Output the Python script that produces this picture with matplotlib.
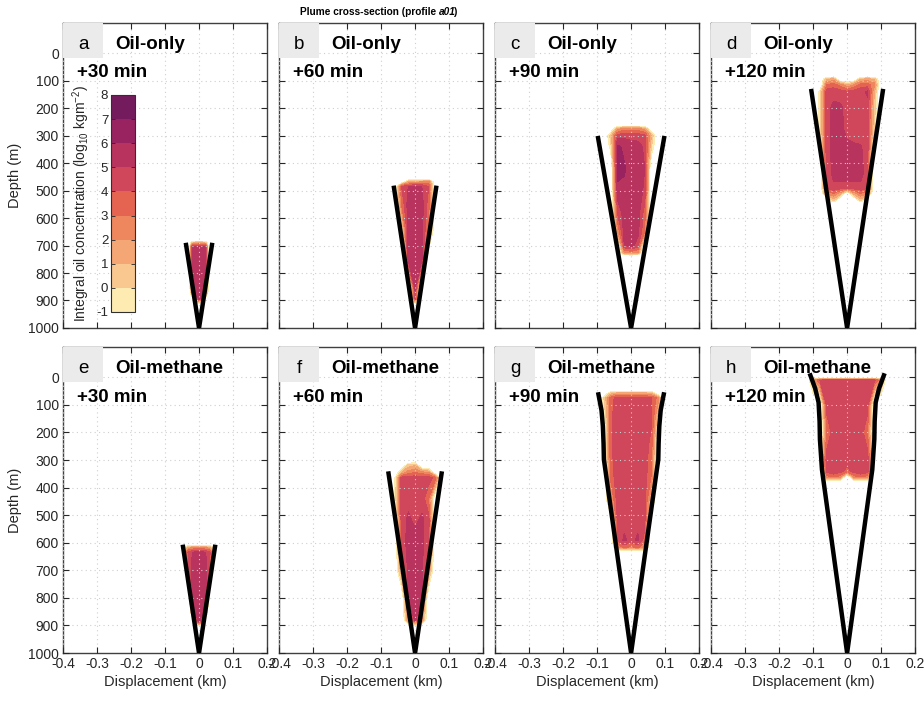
import numpy as np
import matplotlib
matplotlib.use('Agg')
import matplotlib.pyplot as plt
from matplotlib.colors import ListedColormap, BoundaryNorm
from matplotlib.cm import ScalarMappable
from matplotlib.patches import Rectangle
from matplotlib.ticker import FuncFormatter

plt.rcParams['font.family'] = ['Liberation Sans', 'DejaVu Sans']
plt.rcParams['axes.unicode_minus'] = False
plt.rcParams['mathtext.fontset'] = 'custom'
plt.rcParams['mathtext.rm'] = 'Liberation Sans'

# ---- labels ----
letters = ['a', 'b', 'c', 'd', 'e', 'f', 'g', 'h']
scenarios = ['Oil-only'] * 4 + ['Oil-methane'] * 4
times = ['+30 min', '+60 min', '+90 min', '+120 min'] * 2

levels = [-1, 0, 1, 2, 3, 4, 5, 6, 7, 8]
level_colors = ['#fdebb1', '#f9c790', '#f4a674', '#ee875d', '#e46451',
                '#d0465a', '#b8335e', '#992361', '#741b5e']

# ---- plume envelope (depth m, half width km) ----
cone_depth = [
    [1000, 698], [1000, 490], [1000, 309], [1000, 138],
    [1000, 615], [1000, 349],
    [1000, 298, 240, 177, 120, 62],
    [1000, 335, 280, 225, 160, 91, 40, -7],
]
cone_half = [
    [0, 0.038], [0, 0.062], [0, 0.097], [0, 0.105],
    [0, 0.047], [0, 0.078],
    [0, 0.080, 0.081, 0.083, 0.087, 0.096],
    [0, 0.074, 0.077, 0.080, 0.081, 0.084, 0.094, 0.108],
]

# ---- integral oil concentration, log10 kg m^-2 (values below -1 = no oil) ----
a_x = [-0.04, -0.03, -0.02, -0.01, 0.0, 0.01, 0.02, 0.03, 0.04]
a_depth = [680, 692, 705, 760, 820, 870, 895, 915]
a_conc = [
    [-3, -3, -3, -3, -3, -3, -3, -3, -3],
    [-3, -3, 1.0, 2.0, 2.5, 2.0, 1.0, -3, -3],
    [-3, -3, 5.2, 5.5, 5.6, 5.5, 5.2, -3, -3],
    [-3, -3, 5.3, 5.6, 5.7, 5.6, 5.3, -3, -3],
    [-3, -3, 4.0, 5.6, 5.7, 5.6, 4.0, -3, -3],
    [-3, -3, 2.5, 5.4, 5.6, 5.4, 2.5, -3, -3],
    [-3, -3, -3, 3.0, 5.3, 3.0, -3, -3, -3],
    [-3, -3, -3, -3, -3, -3, -3, -3, -3],
]

b_x = [-0.06, -0.04, -0.02, 0.0, 0.02, 0.04, 0.06]
b_depth = [455, 468, 485, 550, 650, 750, 850, 895, 915]
b_conc = [
    [-3, -3, -3, -3, -3, -3, -3],
    [-3, -3, 1.0, 1.5, 2.0, 2.5, -3],
    [-3, 4.0, 5.0, 5.3, 5.0, 4.0, -3],
    [-3, 3.0, 5.5, 5.6, 5.4, 3.5, -3],
    [-3, -1.5, 5.5, 5.7, 5.3, 2.5, -3],
    [-3, -3, 5.4, 5.7, 5.2, -3, -3],
    [-3, -3, -3, 5.6, -3, -3, -3],
    [-3, -3, -3, 4.0, -3, -3, -3],
    [-3, -3, -3, -3, -3, -3, -3],
]

c_x = [-0.08, -0.06, -0.04, -0.02, 0.0, 0.02, 0.04, 0.06, 0.08]
c_depth = [260, 275, 300, 340, 420, 500, 580, 650, 700, 725, 740]
c_conc = [
    [-3, -3, -3, -3, -3, -3, -3, -3, -3],
    [-3, -3, 1.5, 2.5, 2.5, 2.5, 1.5, -3, -3],
    [-3, 0.5, 4.5, 4.7, 4.6, 4.6, 4.3, 1.0, -3],
    [-3, -0.5, 6.2, 5.8, 5.5, 5.4, 4.8, 0.0, -3],
    [-3, -3, 6.3, 6.1, 5.6, 5.5, 5.0, -3, -3],
    [-3, -3, 5.8, 5.8, 5.6, 5.5, 4.8, -3, -3],
    [-3, -3, 4.0, 5.6, 5.7, 5.5, 3.5, -3, -3],
    [-3, -3, 2.0, 5.5, 5.6, 5.3, 3.0, -3, -3],
    [-3, -3, -3, 5.0, 5.4, 4.5, -3, -3, -3],
    [-3, -3, -3, 2.0, 2.5, 2.0, -3, -3, -3],
    [-3, -3, -3, -3, -3, -3, -3, -3, -3],
]

d_x = [-0.10, -0.08, -0.06, -0.04, -0.02, 0.0, 0.02, 0.04, 0.06, 0.08, 0.10]
d_depth = [80, 95, 115, 140, 200, 280, 360, 440, 490, 510, 535, 550]
d_conc = [
    [-3, -3, -3, -3, -3, -3, -3, -3, -3, -3, -3],
    [-3, -3, 1.0, 1.5, -3, -3, -3, 1.0, 1.5, 1.0, -3],
    [-3, -3, 3.0, 3.5, 2.5, 1.0, 2.0, 3.5, 3.5, 2.5, -3],
    [-3, -0.5, 4.6, 4.6, 4.5, 4.2, 4.5, 4.6, 5.2, 1.0, -3],
    [-3, -0.5, 4.6, 5.3, 5.2, 4.6, 4.6, 4.6, 4.6, 0.5, -3],
    [-3, -0.5, 4.6, 5.4, 5.3, 4.7, 4.6, 4.6, 4.5, 0.0, -3],
    [-3, -1.0, 4.6, 5.3, 5.5, 5.4, 5.3, 5.2, 4.5, -3, -3],
    [-3, -3, 4.5, 5.2, 5.5, 5.6, 5.5, 5.3, 4.5, -3, -3],
    [-3, -3, 4.2, 4.8, 4.6, 4.5, 4.6, 4.7, 4.2, -3, -3],
    [-3, -3, 2.0, 3.0, 1.5, -3, 1.5, 3.0, 2.0, -3, -3],
    [-3, -3, -3, 0.5, -3, -3, -3, 0.5, -3, -3, -3],
    [-3, -3, -3, -3, -3, -3, -3, -3, -3, -3, -3],
]

e_x = [-0.05, -0.04, -0.03, -0.02, -0.01, 0.0, 0.01, 0.02, 0.03, 0.04, 0.05]
e_depth = [605, 618, 635, 700, 780, 850, 885, 905]
e_conc = [
    [-3, -3, -3, -3, -3, -3, -3, -3, -3, -3, -3],
    [-3, 0.0, 1.5, 2.0, 2.5, 2.5, 2.5, 2.0, 1.5, 0.0, -3],
    [-3, 2.5, 4.5, 5.0, 5.3, 5.4, 5.3, 5.0, 4.5, 2.5, -3],
    [-3, -3, 4.0, 5.3, 5.6, 5.7, 5.6, 5.3, 4.0, -3, -3],
    [-3, -3, -3, 5.0, 5.6, 5.7, 5.6, 5.0, -3, -3, -3],
    [-3, -3, -3, 2.0, 5.4, 5.6, 5.4, 2.0, -3, -3, -3],
    [-3, -3, -3, -3, 4.0, 5.2, 4.0, -3, -3, -3, -3],
    [-3, -3, -3, -3, -3, -3, -3, -3, -3, -3, -3],
]

f_x = [-0.08, -0.06, -0.04, -0.02, 0.0, 0.02, 0.04, 0.06, 0.08]
f_depth = [300, 320, 345, 365, 440, 520, 600, 700, 800, 880, 905]
f_conc = [
    [-3, -3, -3, -3, -3, -3, -3, -3, -3],
    [-3, -3, -3, 0.5, 1.0, -3, -3, -3, -3],
    [-3, -3, 1.0, 2.5, 3.0, 2.5, 2.0, -3, -3],
    [-3, -1.2, 4.5, 4.6, 4.6, 4.6, 4.5, 3.5, -3],
    [-3, -1.0, 4.5, 4.7, 4.6, 4.6, 3.0, -3, -3],
    [-3, -3, 4.5, 5.2, 4.8, 5.2, 4.5, -3, -3],
    [-3, -3, 4.3, 5.4, 5.5, 5.3, 4.0, -3, -3],
    [-3, -3, 2.0, 5.4, 5.6, 5.3, 2.0, -3, -3],
    [-3, -3, -3, 5.0, 5.6, 5.0, -3, -3, -3],
    [-3, -3, -3, 2.0, 5.4, 2.0, -3, -3, -3],
    [-3, -3, -3, -3, -3, -3, -3, -3, -3],
]

g_x = [-0.10, -0.08, -0.06, -0.04, -0.02, 0.0, 0.02, 0.04, 0.06, 0.08, 0.10]
g_depth = [45, 58, 75, 150, 250, 350, 450, 530, 590, 615, 635]
g_conc = [
    [-3, -3, -3, -3, -3, -3, -3, -3, -3, -3, -3],
    [-3, -3, 0.5, 1.5, 1.5, 1.5, 1.5, 1.5, 1.0, -3, -3],
    [-3, 0.0, 3.5, 4.5, 4.5, 4.4, 4.5, 4.5, 4.0, 2.5, -3],
    [-3, -1.5, 3.8, 4.6, 4.6, 4.6, 4.6, 4.6, 4.2, 0.0, -3],
    [-3, -3, 3.8, 4.6, 4.6, 4.6, 4.6, 4.6, 3.5, -3, -3],
    [-3, -3, 3.5, 4.6, 4.6, 4.6, 4.6, 4.5, 3.0, -3, -3],
    [-3, -3, 1.5, 4.5, 4.6, 4.6, 4.6, 4.3, 0.5, -3, -3],
    [-3, -3, -3, 4.3, 4.7, 4.6, 4.7, 4.3, -3, -3, -3],
    [-3, -3, -3, 4.2, 5.2, 4.6, 5.2, 3.5, -3, -3, -3],
    [-3, -3, -3, 2.0, 3.5, 3.0, 3.5, 1.5, -3, -3, -3],
    [-3, -3, -3, -3, -3, -3, -3, -3, -3, -3, -3],
]

h_x = [-0.12, -0.10, -0.08, -0.06, -0.04, -0.02, 0.0, 0.02, 0.04, 0.06, 0.08, 0.10, 0.12]
h_depth = [0, 10, 100, 200, 300, 340, 360, 380]
h_conc = [
    [-3, -3, -3, -3, -3, -3, -3, -3, -3, -3, -3, -3, -3],
    [-3, 1.5, 4.0, 4.6, 4.6, 4.6, 4.6, 4.6, 4.6, 4.6, 4.3, 2.0, -3],
    [-3, -3, -3, 4.5, 4.6, 4.6, 4.6, 4.6, 4.6, 4.5, -3, -3, -3],
    [-3, -3, -3, 3.0, 4.6, 4.6, 4.6, 4.6, 4.6, 3.0, -3, -3, -3],
    [-3, -3, -1.0, 4.6, 4.6, 4.6, 4.6, 4.6, 4.6, 4.6, -1.0, -3, -3],
    [-3, -3, -2.0, 4.5, 4.6, 4.5, 3.5, 4.5, 4.6, 4.5, -2.0, -3, -3],
    [-3, -3, -3, 2.5, 3.5, 2.5, -3, 2.5, 3.5, 2.5, -3, -3, -3],
    [-3, -3, -3, -3, -3, -3, -3, -3, -3, -3, -3, -3, -3],
]

fields = [(a_x, a_depth, a_conc), (b_x, b_depth, b_conc), (c_x, c_depth, c_conc),
          (d_x, d_depth, d_conc), (e_x, e_depth, e_conc), (f_x, f_depth, f_conc),
          (g_x, g_depth, g_conc), (h_x, h_depth, h_conc)]

cmap = ListedColormap(level_colors)
norm = BoundaryNorm(levels, cmap.N)
ink = '#262626'

fig = plt.figure(figsize=(9.24, 7.02), dpi=100)

left0, width, step = 0.0682, 0.2208, 0.2338
rows = [(0.5328, 0.4345), (0.0698, 0.4359)]

fmt = FuncFormatter(lambda v, p: '0' if abs(v) < 1e-9 else ('%g' % round(v, 2)))

for i in range(8):
    r, c = divmod(i, 4)
    bottom, height = rows[r]
    ax = fig.add_axes([left0 + c * step, bottom, width, height])
    xs, ds, conc = fields[i]
    ax.contourf(xs, ds, np.array(conc), levels=levels, colors=level_colors, zorder=1)

    hw = np.array(cone_half[i])
    dep = np.array(cone_depth[i])
    ax.plot(np.concatenate([-hw[::-1], hw]), np.concatenate([dep[::-1], dep]),
            color='black', lw=3.2, solid_joinstyle='miter', zorder=3)

    ax.set_xlim(-0.4, 0.2)
    ax.set_ylim(1000, -110)
    ax.set_xticks(np.arange(-0.4, 0.21, 0.1))
    ax.set_yticks(np.arange(0, 1001, 100))
    ax.xaxis.set_major_formatter(fmt)
    ax.grid(True, linestyle=(0, (1, 3)), color='#cfcfcf', lw=0.8)
    ax.set_axisbelow(False)
    ax.tick_params(direction='in', top=True, right=True, length=4, width=0.8,
                   colors=ink, labelsize=10, pad=3)
    for s in ax.spines.values():
        s.set_color('#404040')
        s.set_linewidth(1.0)
    if c != 0:
        ax.set_yticklabels([])
    else:
        ax.set_ylabel('Depth (m)', fontsize=10.5, color=ink, labelpad=4)
    if r == 0:
        ax.set_xticklabels([])
    else:
        ax.set_xlabel('Displacement (km)', fontsize=10.5, color=ink, labelpad=3)

    ax.add_patch(Rectangle((0, 1 - 0.115), 0.196, 0.115, transform=ax.transAxes,
                           facecolor='#ebebeb', edgecolor='none', zorder=4, clip_on=False))
    ax.text(0.098, 0.931, letters[i], transform=ax.transAxes, ha='center', va='center',
            fontsize=13.5, color='black', zorder=5)
    ax.text(0.255, 0.931, scenarios[i], transform=ax.transAxes, ha='left', va='center',
            fontsize=13.5, fontweight='bold', color='black', zorder=5)
    ax.text(0.069, 0.836, times[i], transform=ax.transAxes, ha='left', va='center',
            fontsize=13.5, fontweight='bold', color='black', zorder=5)

cax = fig.add_axes([0.1201, 0.5556, 0.026, 0.3091])
cb = fig.colorbar(ScalarMappable(norm=norm, cmap=cmap), cax=cax, ticks=levels)
cax.yaxis.set_ticks_position('both')
cax.yaxis.set_label_position('left')
cax.tick_params(direction='in', length=3, width=0.6, colors=ink, labelsize=9.5,
                labelleft=True, labelright=False, pad=2)
cb.outline.set_edgecolor('#303030')
cb.outline.set_linewidth(0.8)
cb.set_label('Integral oil concentration (log$_{10}$ kgm$^{-2}$)', fontsize=10,
             color=ink, labelpad=3)

fig.text(0.475, 0.983, 'Plume cross-section (profile ', ha='right', va='center',
         fontsize=7.3, fontweight='bold', color='black')
fig.text(0.475, 0.983, 'a01', ha='left', va='center', fontsize=7.3,
         fontweight='bold', style='italic', color='black')
fig.text(0.475 + 0.0165, 0.983, ')', ha='left', va='center', fontsize=7.3,
         fontweight='bold', color='black')

fig.savefig('out.png', dpi=100)
